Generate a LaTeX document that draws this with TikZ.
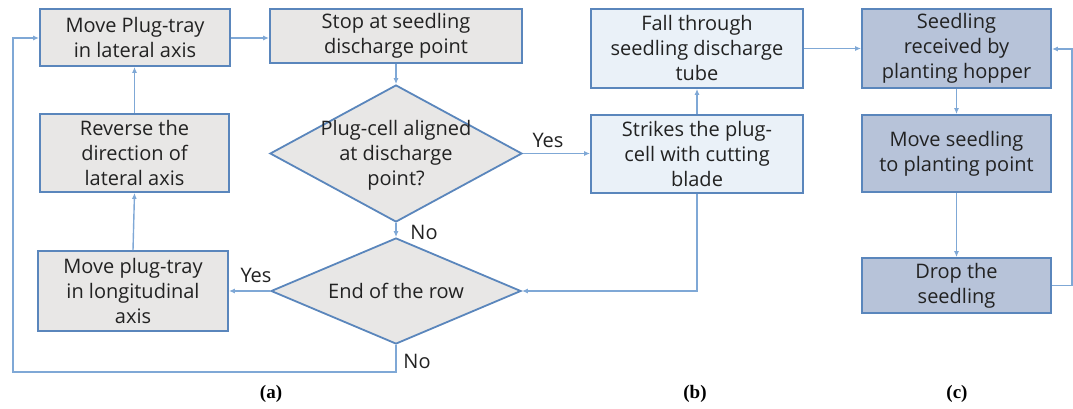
\documentclass[tikz,border=0pt]{standalone}
\usepackage{fontspec}
\setmainfont{Open Sans}
\newfontfamily\capfont{Liberation Serif}
\usetikzlibrary{shapes.geometric,arrows.meta}
\definecolor{bordc}{HTML}{5A86BC}
\definecolor{linec}{HTML}{7FA8D6}
\definecolor{grayf}{HTML}{E8E7E6}
\definecolor{bluef}{HTML}{EAF1F8}
\definecolor{darkf}{HTML}{B7C3D9}
\definecolor{txt}{HTML}{222222}
\begin{document}
\begin{tikzpicture}[x=1pt,y=-1pt,
  every node/.style={font=\fontsize{20}{25}\selectfont, text=txt},
  procbox/.style={draw=bordc, line width=1.8pt, rectangle, align=center, inner sep=0pt},
  grayb/.style={procbox, fill=grayf},
  blueb/.style={procbox, fill=bluef},
  darkb/.style={procbox, fill=darkf},
  decis/.style={draw=bordc, line width=1.8pt, diamond, fill=grayf, inner sep=0pt},
  conn/.style={draw=linec, line width=1.4pt, -{Latex[length=6pt,width=5pt]}},
  lbl/.style={inner sep=1pt},
  captxt/.style={font=\capfont\bfseries\fontsize{19}{22}\selectfont, text=black}
]
\useasboundingbox (0,0) rectangle (1073,409);
% (a)
\node[grayb, minimum width=190pt, minimum height=57pt] (a1) at (135,37.5) {Move Plug-tray\\in lateral axis};
\node[grayb, minimum width=252pt, minimum height=54pt] (a2) at (396,36) {Stop at seedling\\discharge point};
\node[decis, minimum width=252pt, minimum height=137pt] (d1) at (396,153.5) {};
\node[align=center] (d1t) at (396,155) {Plug-cell aligned\\at discharge\\point?};
\node[grayb, minimum width=189pt, minimum height=78pt] (rev) at (134.5,153) {Reverse the\\direction of\\lateral axis};
\node[grayb, minimum width=190pt, minimum height=80pt] (lon) at (133,291) {Move plug-tray\\in longitudinal\\axis};
\node[decis, minimum width=250pt, minimum height=106pt] (d2) at (396,291) {};
\node (d2t) at (396,291) {End of the row};
% (b)
\node[blueb, minimum width=212pt, minimum height=79pt] (b1) at (697,48.5) {Fall through\\seedling discharge\\tube};
\node[blueb, minimum width=212pt, minimum height=78pt] (b2) at (697,154) {Strikes the plug-\\cell with cutting\\blade};
% (c)
\node[darkb, minimum width=189pt, minimum height=79pt] (c1) at (956.5,48.5) {Seedling\\received by\\planting hopper};
\node[darkb, minimum width=189pt, minimum height=77pt] (c2) at (956.5,153.5) {Move seedling\\to planting point};
\node[darkb, minimum width=189pt, minimum height=55pt] (c3) at (956.5,285.5) {Drop the\\seedling};
% helper coordinates
\coordinate (lowy) at (396,372);
\coordinate (leftx) at (13,372);
\coordinate (lefttop) at (13,38);
\coordinate (b2down) at (697,291);
\coordinate (rx1) at (1072,285.5);
\coordinate (rx2) at (1072,49);
% connectors
\draw[conn] (a1.east |- 0,38) -- (a2.west |- 0,38);
\draw[conn] (a2.south) -- (d1.north);
\draw[conn] (d1.east) -- (b2.west |- d1.east);
\draw[conn] (d1.south) -- (d2.north);
\draw[conn] (d2.west) -- (lon.east |- d2.west);
\draw[conn] (lon.north) -- (rev.south);
\draw[conn] (rev.north) -- (a1.south -| rev.north);
\draw[conn] (d2.south) -- (lowy) -- (leftx) -- (lefttop) -- (a1.west |- lefttop);
\draw[conn] (b2.north) -- (b1.south);
\draw[conn] (b2.south) -- (b2down) -- (d2.east);
\draw[conn] (b1.east) -- (c1.west);
\draw[conn] (c1.south) -- (c2.north);
\draw[conn] (c2.south) -- (c3.north);
\draw[conn] (c3.east) -- (rx1) -- (rx2) -- (c1.east |- rx2);
% labels
\node[lbl] (yes1) at (548,140) {Yes};
\node[lbl] (no1) at (424,232) {No};
\node[lbl] (yes2) at (256,275) {Yes};
\node[lbl] (no2) at (417,361) {No};
\node[captxt] (ca) at (271,394) {(a)};
\node[captxt] (cb) at (695,394) {(b)};
\node[captxt] (cc) at (957,394) {(c)};
\end{tikzpicture}
\end{document}
